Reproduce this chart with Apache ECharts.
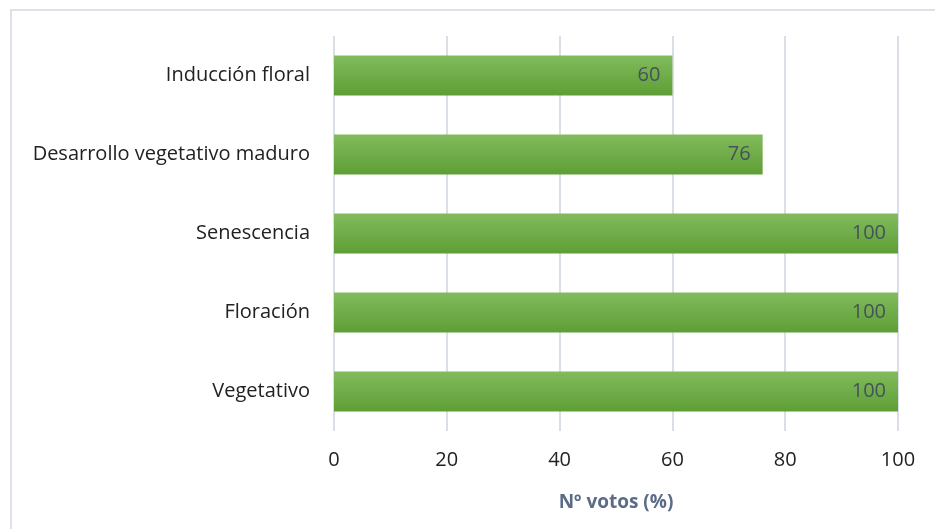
<!DOCTYPE html>
<html>
<head>
<meta charset="utf-8">
<script src="https://cdn.jsdelivr.net/npm/echarts@6/dist/echarts.min.js"></script>
<style>
  html, body { margin: 0; padding: 0; background: #fff; }
  #main { width: 935px; height: 529px; }
</style>
</head>
<body>
<div id="main"></div>
<script>
const categories = ["Vegetativo", "Floración", "Senescencia", "Desarrollo vegetativo maduro", "Inducción floral"];
const votes = [100, 100, 100, 76, 60];
const xTicks = [0, 20, 40, 60, 80, 100];

const chart = echarts.init(document.getElementById("main"));
const font = "'Open Sans', sans-serif";

const option = {
  animation: false,
  grid: { left: 334, right: 37, top: 36, bottom: 98 },
  graphic: [{
    type: "rect",
    shape: { x: 11, y: 10, width: 940, height: 540 },
    style: { fill: "none", stroke: "#dde1ea", lineWidth: 2 },
    silent: true
  }],
  xAxis: {
    type: "value",
    min: xTicks[0],
    max: xTicks[xTicks.length - 1],
    interval: 20,
    name: "Nº votos (%)",
    nameLocation: "middle",
    nameGap: 62,
    nameTextStyle: { color: "#5b6c88", fontSize: 19, fontWeight: "bold", fontFamily: font },
    axisLine: { show: false },
    axisTick: { show: false },
    axisLabel: { color: "#222", fontSize: 20, fontFamily: font, margin: 19 },
    splitLine: { show: true, lineStyle: { color: "#dadee6", width: 2 } }
  },
  yAxis: {
    type: "category",
    data: categories,
    axisLine: { show: false },
    axisTick: { show: false },
    axisLabel: { color: "#222", fontSize: 20, fontFamily: font, margin: 24 }
  },
  series: [{
    type: "bar",
    data: votes,
    barWidth: 40,
    itemStyle: {
      color: new echarts.graphic.LinearGradient(0, 0, 0, 1, [
        { offset: 0, color: "#82bb5c" },
        { offset: 1, color: "#5e9e36" }
      ])
    },
    label: {
      show: true,
      position: "insideRight",
      distance: 12,
      color: "#44525a",
      fontSize: 20,
      fontFamily: font
    }
  }]
};

chart.setOption(option);
</script>
</body>
</html>
